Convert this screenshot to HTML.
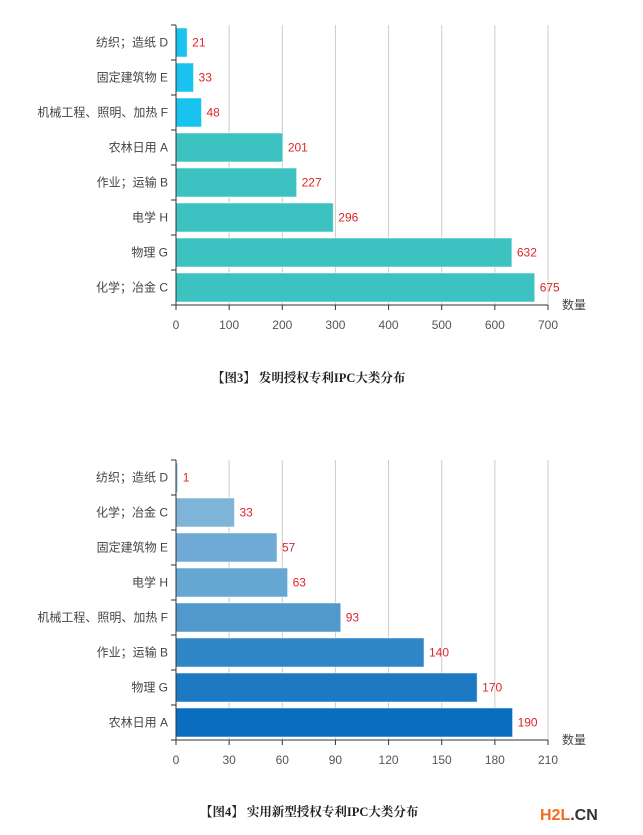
<!DOCTYPE html>
<html><head><meta charset="utf-8"><style>
body{margin:0;background:#fff;width:643px;height:835px;overflow:hidden}
svg{position:absolute;left:0;top:0}
text{font-family:"Liberation Sans","Noto Sans CJK SC",sans-serif}
</style></head><body>
<svg id="svg" width="643" height="835">
<text x="212" y="382" font-size="12.5" font-weight="bold" fill="#222" style="font-family:'Liberation Serif','Noto Serif CJK SC',serif">【图3】 发明授权专利IPC大类分布</text>
<text x="200" y="816" font-size="12.5" font-weight="bold" fill="#222" style="font-family:'Liberation Serif','Noto Serif CJK SC',serif">【图4】 实用新型授权专利IPC大类分布</text>
<text x="540" y="820" font-size="16" font-weight="bold" fill="#f26b1d">H2L<tspan fill="#333">.CN</tspan></text>
</svg>
<script>
const cats1=["纺织；造纸 D","固定建筑物 E","机械工程、照明、加热 F","农林日用 A","作业；运输 B","电学 H","物理 G","化学；冶金 C"];
const vals1=[21,33,48,201,227,296,632,675];
const ticks1=[0,100,200,300,400,500,600,700];
const cats2=["纺织；造纸 D","化学；冶金 C","固定建筑物 E","电学 H","机械工程、照明、加热 F","作业；运输 B","物理 G","农林日用 A"];
const vals2=[1,33,57,63,93,140,170,190];
const ticks2=[0,30,60,90,120,150,180,210];
const colors2=["#8cbde0","#7fb4d9","#6eaad5","#65a6d3","#5198cb","#2f86c7","#1c79c2","#0b6dc0"];
const svg=document.getElementById('svg');
const NS="http://www.w3.org/2000/svg";
function mk(tag,attrs){const e=document.createElementNS(NS,tag);for(const k in attrs)e.setAttribute(k,attrs[k]);svg.appendChild(e);return e;}
function chart(id,cats,vals,ticks,top,colorFn){
  const x0=176,x1=548,bottom=top+280,max=ticks[ticks.length-1];
  const xs=v=>x0+(x1-x0)*v/max;
  const band=(bottom-top)/cats.length;
  ticks.forEach((t,i)=>{
    if(i>0){const g=mk('line',{x1:xs(t),x2:xs(t),y1:top,y2:bottom,stroke:'#ccc'});
    
    }
    mk('line',{x1:xs(t),x2:xs(t),y1:bottom,y2:bottom+5,stroke:'#333'});
    const tl=mk('text',{x:xs(t),y:bottom+24,'font-size':12,fill:'#555','text-anchor':'middle'});
    tl.textContent=t;
    
    
  });
  cats.forEach((c,i)=>{
    const y=top+i*band;
    mk('line',{x1:x0-5,x2:x0,y1:y,y2:y,stroke:'#333'});
    const b=mk('rect',{x:x0,y:y+3,width:xs(vals[i])-x0,height:band-6,fill:colorFn(i),stroke:'rgba(255,255,255,0.5)'});
    
    
    const l=mk('text',{x:x0-8,y:y+band/2+4,'font-size':12,fill:'#444','text-anchor':'end'});
    l.textContent=c;
    
    
    const v=mk('text',{x:xs(vals[i])+5,y:y+band/2+4,'font-size':12,fill:'#e0242a'});
    v.textContent=vals[i];
    
    
  });
  mk('line',{x1:x0-5,x2:x0,y1:bottom,y2:bottom,stroke:'#333'});
  mk('line',{x1:x0,x2:x0,y1:top,y2:bottom,stroke:'#333'});
  mk('line',{x1:x0,x2:x1,y1:bottom,y2:bottom,stroke:'#333'});
  const at=mk('text',{x:x1+14,y:bottom+4,'font-size':12,fill:'#444'});
  at.textContent='数量';
  
  
}
chart('chart1',cats1,vals1,ticks1,25,i=>i<3?'#19c3ef':'#3cc3c1');
chart('chart2',cats2,vals2,ticks2,460,i=>colors2[i]);
</script>
</body></html>
